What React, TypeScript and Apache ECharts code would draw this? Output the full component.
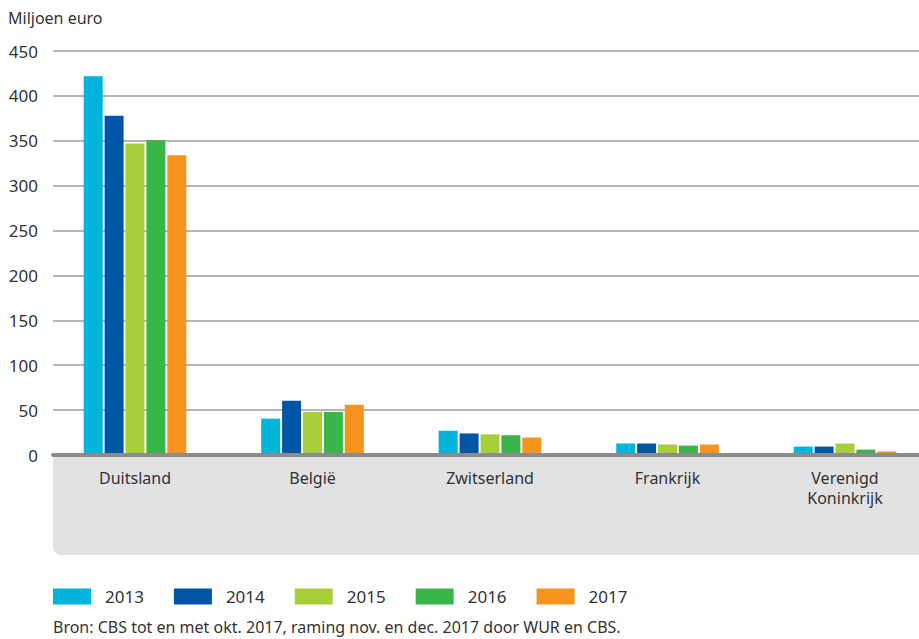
import React, { useEffect, useRef } from "react";
import * as echarts from "echarts";

const categories = ["Duitsland", "België", "Zwitserland", "Frankrijk", "Verenigd\nKoninkrijk"];
const years = ["2013", "2014", "2015", "2016", "2017"];
const v2013 = [422, 40.5, 27, 12.8, 9.4];
const v2014 = [378, 60.5, 24, 12.8, 9.4];
const v2015 = [347, 48, 23, 11.7, 12.8];
const v2016 = [350.5, 48, 22, 10.5, 6];
const v2017 = [334, 56, 19.5, 11.7, 4];
const seriesValues = [v2013, v2014, v2015, v2016, v2017];
const colors = ["#00b4dc", "#0055a5", "#a8cf3a", "#39b54a", "#f7941e"];
const yTicks = { min: 0, max: 450, interval: 50 };
const yTitle = "Miljoen euro";
const source = "Bron: CBS tot en met okt. 2017, raming nov. en dec. 2017 door WUR en CBS.";

const FONT = "'Noto Sans', sans-serif";
const TXT = "#333333";

export default function App() {
  const ref = useRef<HTMLDivElement>(null);
  useEffect(() => {
    document.body.style.margin = "0";
    const chart = echarts.init(ref.current!, null, { renderer: "svg" });
    chart.setOption({
      animation: false,
      textStyle: { fontFamily: FONT },
      title: {
        text: yTitle,
        left: 8,
        top: 10,
        padding: 0,
        textStyle: { fontFamily: FONT, fontSize: 16, fontWeight: "normal", color: TXT },
      },
      graphic: [
        {
          type: "rect",
          z: -1,
          shape: { x: 53, y: 457, width: 866, height: 98, r: [0, 0, 0, 8] },
          style: { fill: "#e1e2e4" },
        },
        {
          type: "text",
          x: 53,
          y: 627,
          style: {
            text: source,
            fill: TXT,
            font: `16px ${FONT}`,
            textVerticalAlign: "middle",
          },
        },
      ],
      legend: {
        left: 53,
        top: 588,
        padding: 0,
        icon: "rect",
        itemWidth: 38,
        itemHeight: 16,
        itemGap: 30,
        data: years,
        textStyle: { fontFamily: FONT, fontSize: 17, color: TXT, padding: [0, 0, 0, 9] },
      },
      grid: [
        { left: 53, right: 0, top: 51, height: 404, outerBoundsMode: "none" },
        { left: 46.25, width: 887.5, top: 51, height: 404, outerBoundsMode: "none" },
      ],
      xAxis: [
        {
          type: "category",
          gridIndex: 0,
          data: categories,
          axisLine: { show: true, lineStyle: { color: "#8a8b8d", width: 4 } },
          axisTick: { show: false },
          axisLabel: { show: false },
          z: 5,
        },
        {
          type: "category",
          gridIndex: 1,
          data: categories,
          axisLine: { show: false },
          axisTick: { show: false },
          axisLabel: {
            margin: 13,
            fontFamily: FONT,
            fontSize: 16,
            color: TXT,
            lineHeight: 20,
          },
        },
      ],
      yAxis: [
        {
          type: "value",
          gridIndex: 0,
          min: yTicks.min,
          max: yTicks.max,
          interval: yTicks.interval,
          axisLine: { show: false },
          axisTick: { show: false },
          axisLabel: { margin: 15, fontFamily: FONT, fontSize: 17, color: TXT },
          splitLine: { lineStyle: { color: "#9d9d9d", width: 1.5 } },
        },
        {
          type: "value",
          gridIndex: 1,
          min: yTicks.min,
          max: yTicks.max,
          interval: yTicks.interval,
          show: false,
          splitLine: { show: false },
        },
      ],
      series: years.map((y, i) => ({
        name: y,
        type: "bar",
        xAxisIndex: 1,
        yAxisIndex: 1,
        data: seriesValues[i],
        barWidth: 19,
        barGap: "10%",
        itemStyle: { color: colors[i] },
      })),
    });
    return () => chart.dispose();
  }, []);
  return <div ref={ref} style={{ width: 919, height: 639 }} />;
}
